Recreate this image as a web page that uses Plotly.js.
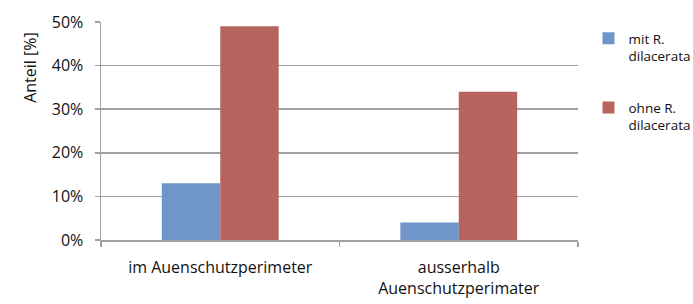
<!DOCTYPE html>
<html>
<head>
<meta charset="utf-8">
<script src="https://cdn.plot.ly/plotly-3.0.1.min.js"></script>
<style>html,body{margin:0;padding:0;background:#fff;}#chart{width:693px;height:304px;}</style>
</head>
<body>
<div id="chart"></div>
<script>
var categories = ["im Auenschutzperimeter", "ausserhalb<br>Auenschutzperimater"];
var seriesNames = ["mit R.<br>dilacerata", "ohne R.<br>dilacerata"];
var mitValues = [0.13, 0.04];
var ohneValues = [0.49, 0.34];
var yTickVals = [0, 0.1, 0.2, 0.3, 0.4, 0.5];
var yTickText = ["0%", "10%", "20%", "30%", "40%", "50%"];

var font = "'Open Sans', Lato, sans-serif";
var txt = "#111";
var traces = [
  {type: "bar", x: categories, y: mitValues, name: seriesNames[0], legendgroup: "a",
   marker: {color: "#7095C9"}},
  {type: "bar", x: categories, y: ohneValues, name: seriesNames[1], legendgroup: "b",
   marker: {color: "#B7645F"}}
];
var layout = {
  width: 693, height: 304,
  margin: {l: 101, r: 115, t: 22, b: 64, pad: 0, autoexpand: false},
  paper_bgcolor: "#fff", plot_bgcolor: "#fff",
  barmode: "group", bargap: 0.51, bargroupgap: 0,
  font: {family: font, size: 16, color: txt},
  showlegend: true,
  legend: {x: 1.022, y: 0.995, xanchor: "left", yanchor: "top", traceorder: "grouped",
           tracegroupgap: 31, font: {family: font, size: 13.5, color: txt},
           itemwidth: 30, valign: "top"},
  xaxis: {type: "category", showgrid: false, showline: true, linecolor: "#a0a0a0", linewidth: 1.5,
          ticks: "outside", tickson: "boundaries", ticklen: 5, tickcolor: "#a0a0a0", tickwidth: 1.5,
          ticklabelstandoff: 12, tickfont: {family: font, size: 16, color: txt}},
  yaxis: {range: [0, 0.5], tickvals: yTickVals, ticktext: yTickText, showgrid: true,
          gridcolor: "#a0a0a0", gridwidth: 1.5, showline: true, linecolor: "#a0a0a0", linewidth: 1.5,
          ticks: "outside", ticklen: 5, tickcolor: "#a0a0a0", tickwidth: 1.5, zeroline: false,
          ticklabelstandoff: 8, tickfont: {family: font, size: 16, color: txt}},
  annotations: [{text: "Anteil [%]", textangle: -90, xref: "paper", yref: "paper",
                 x: -0.149, y: 0.794, xanchor: "center", yanchor: "middle", showarrow: false,
                 font: {family: font, size: 16, color: txt}}]
};
Plotly.newPlot("chart", traces, layout, {displayModeBar: false, staticPlot: true});
</script>
</body>
</html>
